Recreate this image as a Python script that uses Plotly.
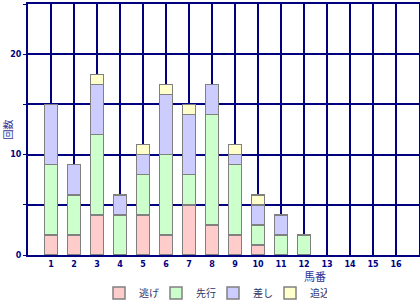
import plotly.graph_objects as go

umaban = list(range(1, 17))
nige   = [2, 2, 4, 0, 4, 2, 5, 3, 2, 1, 0, 0, 0, 0, 0, 0]
senko  = [7, 4, 8, 4, 4, 8, 3, 11, 7, 2, 2, 2, 0, 0, 0, 0]
sashi  = [6, 3, 5, 2, 2, 6, 6, 3, 1, 2, 2, 0, 0, 0, 0, 0]
oikomi = [0, 0, 1, 0, 1, 1, 1, 0, 1, 1, 0, 0, 0, 0, 0, 0]

series = [("逃げ", nige, "#FFCCCC"), ("先行", senko, "#CCFFCC"),
          ("差し", sashi, "#CCCCFF"), ("追込", oikomi, "#FFFFCC")]

NAVY = "#000080"
fig = go.Figure()
for name, vals, col in series:
    fig.add_trace(go.Bar(
        x=umaban, y=[v if v else None for v in vals], name=name,
        width=0.58, marker=dict(color=col, line=dict(color="#808080", width=1.5)),
    ))

fig.update_layout(
    width=420, height=300, barmode="stack",
    margin=dict(l=28, r=1, t=4, b=45, autoexpand=False),
    paper_bgcolor="white", plot_bgcolor="white",
    font=dict(family="DejaVu Sans", size=8, color=NAVY),
    showlegend=True,
    legend=dict(orientation="h", traceorder="normal",
                x=(213 - 28) / 391, xanchor="center", y=-(293 - 255) / 251, yanchor="middle",
                font=dict(family="Noto Sans CJK JP", size=10, color="#333366"),
                entrywidth=12, itemwidth=30, bgcolor="rgba(0,0,0,0)"),
    xaxis=dict(range=[0, 17], tickvals=umaban, ticktext=[str(u) for u in umaban],
               showgrid=True, gridcolor=NAVY, gridwidth=2, zeroline=False,
               showline=True, linecolor=NAVY, linewidth=2, mirror=True,
               ticks="", tickfont=dict(family="DejaVu Sans", size=8, color=NAVY, weight="bold")),
    yaxis=dict(range=[0, 25], tickvals=[0, 5, 10, 15, 20, 25],
               ticktext=["0", "", "10", "", "20", ""],
               showgrid=True, gridcolor=NAVY, gridwidth=2, zeroline=False,
               showline=True, linecolor=NAVY, linewidth=2, mirror=True,
               ticks="outside", ticklen=3, tickcolor=NAVY,
               tickfont=dict(family="DejaVu Sans", size=8, color=NAVY, weight="bold"),
               title=dict(text="回数", standoff=3,
                          font=dict(family="Noto Sans CJK JP", size=10, color="#333399"))),
    annotations=[dict(text="馬番", xref="paper", yref="paper",
                      x=(315 - 28) / 391, y=-(276 - 255) / 251, xanchor="center", yanchor="middle",
                      showarrow=False,
                      font=dict(family="Noto Sans CJK JP", size=11, color="#333399"))],
)

fig.write_html("out.html")
